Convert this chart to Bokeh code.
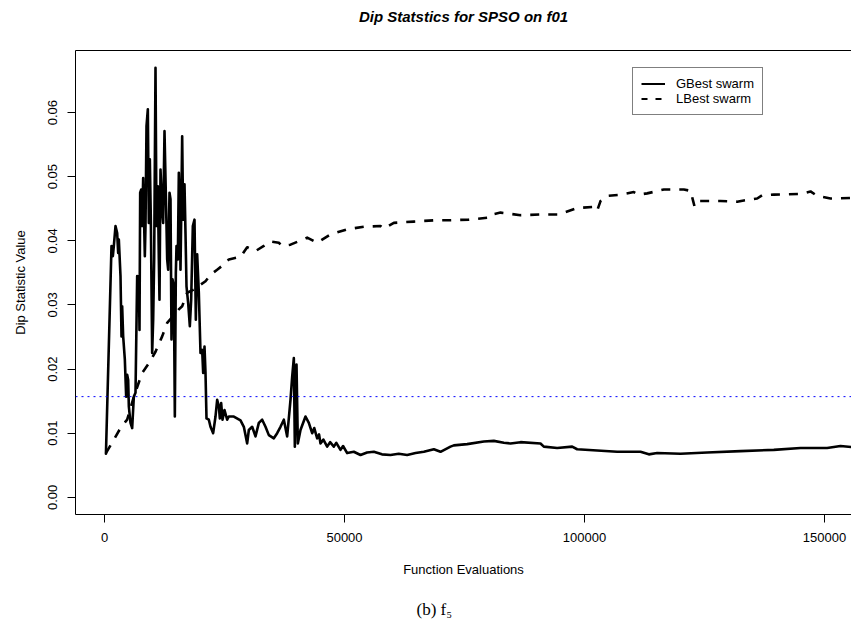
from bokeh.plotting import figure
from bokeh.models import (Range1d, FixedTicker, LinearAxis, Span, Legend,
                          LegendItem, PrintfTickFormatter, Title)
from bokeh.embed import file_html
from bokeh.resources import INLINE

TITLE = "Dip Statstics for SPSO on f01"
X_LABEL = "Function Evaluations"
Y_LABEL = "Dip Statistic Value"
CAPTION = "(b) f\u2085"
X_TICKS = [0, 50000, 100000, 150000]
X_TICK_LABELS = ["0", "50000", "100000", "150000"]
Y_TICKS = [0.00, 0.01, 0.02, 0.03, 0.04, 0.05, 0.06]
Y_TICK_LABELS = ["0.00", "0.01", "0.02", "0.03", "0.04", "0.05", "0.06"]
SERIES_NAMES = ["GBest swarm", "LBest swarm"]
THRESHOLD = 0.0157

gbest_evals = [
    300, 1458, 1736, 1944, 2292, 2639, 2847, 2986, 3333, 3542,
    3681, 3889, 4236, 4514, 4722, 4931, 5069, 5417, 5764, 6111,
    6458, 6806, 7014, 7153, 7292, 7431, 7639, 7847, 8056, 8403,
    8542, 8750, 9028, 9236, 9444, 9653, 9931, 10139, 10347, 10625,
    10833, 11111, 11319, 11458, 11667, 12014, 12222, 12500, 12917, 13056,
    13264, 13542, 13750, 13958, 14167, 14444, 14653, 14861, 15000, 15278,
    15486, 15694, 15833, 15972, 16181, 16389, 16667, 16875, 17083, 17431,
    17778, 18056, 18403, 18750, 19028, 19306, 19653, 20000, 20347, 20556,
    20833, 21042, 21250, 21736, 22083, 22639, 23125, 23472, 23819, 24028,
    24306, 24583, 25000, 25556, 25903, 26944, 28333, 29028, 29722, 30069,
    30764, 31458, 32153, 32847, 33542, 34236, 35278, 35972, 36667, 37361,
    38056, 38750, 39097, 39444, 39653, 40000, 40278, 40833, 41875, 42569,
    43264, 43700, 44306, 44700, 45000, 45600, 46389, 47000, 47778, 48300,
    49167, 49700, 50556, 51944, 53333, 54700, 56111, 57800, 59583, 61300,
    63056, 64800, 66528, 68611, 70000, 72083, 72778, 75556, 79028, 81111,
    83194, 84583, 86667, 90833, 91528, 94306, 97431, 98472, 102639, 106806,
    111667, 113403, 115139, 120000, 125556, 132500, 139444, 145000, 150556, 153333,
    156000,
]
gbest_dip = [
    0.0068, 0.0392, 0.0376, 0.0392, 0.0423, 0.0412, 0.0381, 0.0402, 0.0345, 0.0251,
    0.0298, 0.0251, 0.0215, 0.0157, 0.0191, 0.0183, 0.0142, 0.0116, 0.0108, 0.0157,
    0.0163, 0.0345, 0.0308, 0.0345, 0.0261, 0.0475, 0.0480, 0.0423, 0.0498, 0.0376,
    0.0423, 0.0579, 0.0605, 0.0428, 0.0527, 0.0433, 0.0225, 0.0277, 0.0371, 0.0670,
    0.0423, 0.0485, 0.0371, 0.0308, 0.0511, 0.0449, 0.0428, 0.0571, 0.0423, 0.0371,
    0.0355, 0.0475, 0.0465, 0.0246, 0.0340, 0.0329, 0.0126, 0.0350, 0.0392, 0.0371,
    0.0506, 0.0454, 0.0355, 0.0433, 0.0563, 0.0433, 0.0488, 0.0412, 0.0329, 0.0303,
    0.0267, 0.0308, 0.0423, 0.0433, 0.0277, 0.0379, 0.0319, 0.0225, 0.0230, 0.0194,
    0.0235, 0.0194, 0.0123, 0.0121, 0.0110, 0.0100, 0.0126, 0.0152, 0.0142, 0.0123,
    0.0147, 0.0121, 0.0136, 0.0121, 0.0126, 0.0126, 0.0120, 0.0110, 0.0084, 0.0105,
    0.0110, 0.0095, 0.0116, 0.0121, 0.0110, 0.0097, 0.0092, 0.0100, 0.0110, 0.0121,
    0.0095, 0.0152, 0.0188, 0.0217, 0.0079, 0.0207, 0.0084, 0.0105, 0.0126, 0.0116,
    0.0100, 0.0108, 0.0092, 0.0098, 0.0084, 0.0090, 0.0079, 0.0086, 0.0079, 0.0085,
    0.0074, 0.0080, 0.0069, 0.0071, 0.0066, 0.0070, 0.0071, 0.0067, 0.0066, 0.0068,
    0.0066, 0.0069, 0.0071, 0.0075, 0.0071, 0.0079, 0.0081, 0.0083, 0.0087, 0.0088,
    0.0085, 0.0084, 0.0086, 0.0084, 0.0079, 0.0077, 0.0079, 0.0075, 0.0073, 0.0071,
    0.0071, 0.0067, 0.0069, 0.0068, 0.0070, 0.0072, 0.0074, 0.0077, 0.0077, 0.0080,
    0.0078,
]

lbest_evals = [
    300, 1944, 3333, 4375, 4722, 6111, 7847, 9236, 10625, 12014,
    13056, 15486, 16181, 17222, 18611, 21042, 22083, 23472, 24861, 25903,
    28333, 29722, 31458, 33194, 34583, 36319, 37014, 38750, 42222, 44306,
    47083, 50556, 54028, 57500, 58194, 60278, 64444, 68611, 71389, 75903,
    79722, 80069, 82500, 86667, 90833, 94653, 95694, 98472, 101944, 102639,
    103333, 104722, 107500, 110278, 111319, 113056, 116528, 118611, 120694, 122083,
    122639, 122917, 123472, 128333, 131806, 133194, 135972, 137014, 139444, 145000,
    147083, 148472, 151250, 156000,
]
lbest_dip = [
    0.0069, 0.0090, 0.0108, 0.0118, 0.0121, 0.0157, 0.0194, 0.0209, 0.0227, 0.0251,
    0.0272, 0.0293, 0.0298, 0.0319, 0.0324, 0.0337, 0.0347, 0.0355, 0.0363, 0.0371,
    0.0375, 0.0390, 0.0384, 0.0392, 0.0399, 0.0397, 0.0392, 0.0394, 0.0405, 0.0397,
    0.0410, 0.0418, 0.0422, 0.0423, 0.0419, 0.0428, 0.0430, 0.0432, 0.0432, 0.0433,
    0.0436, 0.0440, 0.0444, 0.0440, 0.0441, 0.0441, 0.0444, 0.0451, 0.0453, 0.0447,
    0.0462, 0.0470, 0.0472, 0.0476, 0.0472, 0.0474, 0.0480, 0.0480, 0.0480, 0.0478,
    0.0462, 0.0454, 0.0462, 0.0462, 0.0461, 0.0463, 0.0466, 0.0471, 0.0472, 0.0473,
    0.0477, 0.0470, 0.0466, 0.0467,
]

assert len(gbest_evals) == len(gbest_dip)
assert len(lbest_evals) == len(lbest_dip)

FONT = "Liberation Sans"
SERIF = "Liberation Serif"
W = 851

p = figure(width=W, height=620, output_backend="svg", toolbar_location=None,
           x_range=Range1d(-6042, 155625), y_range=Range1d(-0.00268, 0.06968),
           min_border_left=75, min_border_right=0, min_border_top=50,
           min_border_bottom=106)
p.outline_line_color = None
p.xgrid.visible = False
p.ygrid.visible = False
p.background_fill_color = "white"
p.border_fill_color = "white"

xa = p.xaxis[0]
xa.ticker = FixedTicker(ticks=X_TICKS)
xa.major_label_overrides = {t: s for t, s in zip(X_TICKS, X_TICK_LABELS)}
xa.axis_label = X_LABEL
ya = p.yaxis[0]
ya.ticker = FixedTicker(ticks=Y_TICKS)
ya.formatter = PrintfTickFormatter(format="%.2f")
ya.major_label_overrides = {t: s for t, s in zip(Y_TICKS, Y_TICK_LABELS)}
ya.axis_label = Y_LABEL
ya.major_label_orientation = "vertical"

for ax in (xa, ya):
    ax.axis_line_color = "black"
    ax.axis_line_width = 1
    ax.major_tick_line_color = "black"
    ax.major_tick_out = 8
    ax.major_tick_in = 0
    ax.minor_tick_line_color = None
    ax.major_label_text_font = FONT
    ax.major_label_text_font_size = "13px"
    ax.major_label_text_color = "black"
    ax.axis_label_text_font = FONT
    ax.axis_label_text_font_size = "13px"
    ax.axis_label_text_font_style = "normal"
    ax.axis_label_text_color = "black"
xa.major_label_standoff = 10
xa.axis_label_standoff = 17
ya.major_label_standoff = 10
ya.axis_label_standoff = 18

# top box line
top = LinearAxis(ticker=FixedTicker(ticks=[]), axis_line_color="black",
                 major_tick_line_color=None, minor_tick_line_color=None,
                 major_tick_out=0, major_tick_in=0, major_label_standoff=0,
                 major_label_text_font_size="0px")
p.add_layout(top, "above")
# spacing panel, then the main title further up
p.add_layout(Title(text=" ", text_font_size="1px", standoff=22), "above")
p.add_layout(Title(text=TITLE, align="center", text_font=FONT,
                   text_font_style="bold italic", text_font_size="15px",
                   text_color="black", standoff=2), "above")

p.line(lbest_evals, lbest_dip, line_color="black", line_width=2.6,
       line_dash="9 9", line_join="round")
p.line(gbest_evals, gbest_dip, line_color="black", line_width=2.6,
       line_join="round", line_cap="round")

p.add_layout(Span(location=THRESHOLD, dimension="width", line_color="blue",
                  line_width=1, line_dash="2 4"))

off = [-1e7, -1e7 + 1]
r_leg1 = p.line(x=off, y=[0, 0], line_color="black", line_width=2)
r_leg2 = p.line(x=off, y=[0, 0], line_color="black", line_width=2, line_dash="6 8")
legend = Legend(items=[LegendItem(label=SERIES_NAMES[0], renderers=[r_leg1]),
                       LegendItem(label=SERIES_NAMES[1], renderers=[r_leg2])],
                location=(557, 399), padding=8, spacing=0, margin=0,
                label_height=13, glyph_height=13, glyph_width=24,
                label_standoff=11, border_line_color="black",
                border_line_width=1, background_fill_color="white",
                background_fill_alpha=1.0, label_text_font=FONT,
                label_text_font_size="13px", label_text_color="black")
p.add_layout(legend)

# spacing panel below the x axis, then the caption
p.add_layout(Title(text=" ", text_font_size="1px", standoff=15), "below")
p.add_layout(Title(text=CAPTION, align="left", offset=341, text_font=SERIF,
                   text_font_style="normal", text_font_size="17px",
                   text_color="black", standoff=0), "below")

open("out.html", "w").write(file_html(p, INLINE))
